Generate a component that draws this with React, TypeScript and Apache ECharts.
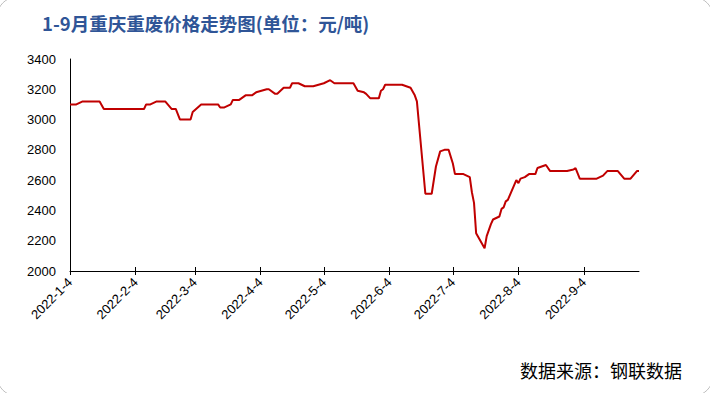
import React, { useEffect, useRef } from "react";
import * as echarts from "echarts";

const TITLE = "1-9月重庆重废价格走势图(单位：元/吨)";
const SOURCE = "数据来源：钢联数据";

// y-axis scale
const Y_MIN = 2000;
const Y_MAX = 3400;
const Y_STEP = 200;

// date range of the category axis (daily)
const START_DATE = "2022-01-04";
const END_DATE = "2022-09-30";

// line vertices: dates and prices (元/吨)
const pointDates = [
  "2022-1-4", "2022-1-7", "2022-1-10", "2022-1-18", "2022-1-20", "2022-2-8", "2022-2-9", "2022-2-11",
  "2022-2-14", "2022-2-18", "2022-2-21", "2022-2-23", "2022-2-25", "2022-3-2", "2022-3-3", "2022-3-7",
  "2022-3-15", "2022-3-16", "2022-3-18", "2022-3-21", "2022-3-22", "2022-3-25", "2022-3-28", "2022-3-31",
  "2022-4-2", "2022-4-7", "2022-4-8", "2022-4-11", "2022-4-12", "2022-4-15", "2022-4-18", "2022-4-19",
  "2022-4-22", "2022-4-25", "2022-4-29", "2022-5-4", "2022-5-7", "2022-5-9", "2022-5-18", "2022-5-20",
  "2022-5-23", "2022-5-24", "2022-5-26", "2022-5-30", "2022-5-31", "2022-6-1", "2022-6-2", "2022-6-10",
  "2022-6-12", "2022-6-14", "2022-6-16", "2022-6-17", "2022-6-21", "2022-6-24", "2022-6-26", "2022-6-28",
  "2022-6-30", "2022-7-2", "2022-7-4", "2022-7-5", "2022-7-9", "2022-7-12", "2022-7-13", "2022-7-14",
  "2022-7-15", "2022-7-19", "2022-7-20", "2022-7-22", "2022-7-23", "2022-7-26", "2022-7-27", "2022-7-28",
  "2022-7-29", "2022-7-30", "2022-8-3", "2022-8-4", "2022-8-5", "2022-8-7", "2022-8-9", "2022-8-12",
  "2022-8-13", "2022-8-15", "2022-8-17", "2022-8-19", "2022-8-27", "2022-8-30", "2022-8-31", "2022-9-2",
  "2022-9-10", "2022-9-13", "2022-9-15", "2022-9-20", "2022-9-23", "2022-9-26", "2022-9-29", "2022-9-30",
];
const pointValues = [
  3100, 3100, 3120, 3120, 3070, 3070, 3100, 3100,
  3120, 3120, 3070, 3070, 3000, 3000, 3050, 3100,
  3100, 3080, 3080, 3100, 3130, 3130, 3160, 3160,
  3180, 3200, 3200, 3170, 3170, 3210, 3210, 3240,
  3240, 3220, 3220, 3240, 3260, 3240, 3240, 3190,
  3180, 3170, 3140, 3140, 3190, 3200, 3230, 3230,
  3220, 3210, 3160, 3120, 2510, 2510, 2690, 2790,
  2800, 2800, 2710, 2640, 2640, 2620, 2520, 2450,
  2250, 2150, 2230, 2310, 2340, 2360, 2410, 2420,
  2460, 2470, 2600, 2580, 2610, 2620, 2640, 2640,
  2680, 2690, 2700, 2660, 2660, 2670, 2680, 2610,
  2610, 2630, 2660, 2660, 2610, 2610, 2660, 2660,
];

function fmt(d: Date): string {
  return `${d.getFullYear()}-${d.getMonth() + 1}-${d.getDate()}`;
}

function buildCategories(): string[] {
  const out: string[] = [];
  const [sy, sm, sd] = START_DATE.split("-").map(Number);
  const [ey, em, ed] = END_DATE.split("-").map(Number);
  const d = new Date(sy, sm - 1, sd);
  const end = new Date(ey, em - 1, ed);
  while (d.getTime() <= end.getTime()) {
    out.push(fmt(d));
    d.setDate(d.getDate() + 1);
  }
  return out;
}

export default function App() {
  const ref = useRef<HTMLDivElement>(null);

  useEffect(() => {
    if (!ref.current) return;
    const chart = echarts.init(ref.current, undefined, { renderer: "svg" });
    const categories = buildCategories();
    const isFourth = (_i: number, v: string) => String(v).split("-")[2] === "4";
    const seriesData = pointDates.map((d, i) => [d, pointValues[i]]);

    chart.setOption({
      animation: false,
      backgroundColor: "#ffffff",
      title: {
        text: TITLE,
        left: 37,
        top: 9,
        textStyle: {
          fontFamily: "Noto Sans CJK SC",
          fontSize: 18.5,
          fontWeight: "bold",
          color: "#2F5597",
        },
      },
      grid: { left: 70, right: 71, top: 59, bottom: 122, containLabel: false },
      xAxis: [
        {
          type: "category",
          data: categories,
          boundaryGap: false,
          axisLine: { show: true, lineStyle: { color: "#000000", width: 1 } },
          axisTick: { show: true, inside: false, length: 4, interval: isFourth, lineStyle: { color: "#000000" } },
          axisLabel: {
            show: true,
            interval: isFourth,
            rotate: 45,
            margin: 9,
            fontSize: 13,
            fontFamily: "Liberation Sans",
            color: "#000000",
          },
          splitLine: { show: false },
        },
        {
          type: "category",
          data: categories,
          boundaryGap: false,
          position: "bottom",
          axisLine: { show: false },
          axisTick: { show: true, inside: true, length: 4, interval: isFourth, lineStyle: { color: "#000000" } },
          axisLabel: { show: false },
          splitLine: { show: false },
        },
      ],
      yAxis: {
        type: "value",
        min: Y_MIN,
        max: Y_MAX,
        interval: Y_STEP,
        axisLine: { show: true, lineStyle: { color: "#000000", width: 1 } },
        axisTick: { show: false },
        axisLabel: {
          margin: 14,
          fontSize: 13,
          fontFamily: "Liberation Sans",
          color: "#000000",
          formatter: (v: number) => String(v),
        },
        splitLine: { show: false },
      },
      series: [
        {
          type: "line",
          data: seriesData,
          showSymbol: false,
          symbol: "none",
          lineStyle: { color: "#C00000", width: 2 },
          itemStyle: { color: "#C00000" },
        },
      ],
      graphic: [
        {
          type: "rect",
          shape: { x: -3, y: -3, width: 716, height: 399, r: 20 },
          style: { fill: "none", stroke: "#bfbfbf", lineWidth: 1 },
          silent: true,
          z: 100,
        },
        {
          type: "text",
          right: 28,
          top: 361,
          style: {
            text: SOURCE,
            fontFamily: "Noto Sans CJK SC",
            fontSize: 18,
            fill: "#000000",
          },
        },
      ],
    });

    return () => {
      chart.dispose();
    };
  }, []);

  return (
    <div
      ref={ref}
      style={{ position: "fixed", left: 0, top: 0, width: 710, height: 393 }}
    />
  );
}
